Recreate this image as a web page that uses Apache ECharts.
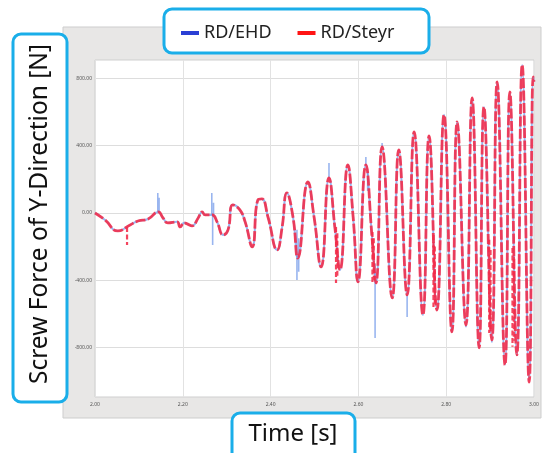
<!DOCTYPE html>
<html>
<head>
<meta charset="utf-8">
<script src="https://cdn.jsdelivr.net/npm/echarts@6/dist/echarts.min.js"></script>
<style>
  html, body { margin: 0; padding: 0; background: #ffffff; }
  #chart { width: 543px; height: 453px; }
</style>
</head>
<body>
<div id="chart"></div>
<script>
// Screw force (Y direction) over time, two measurement sources
const timeSteyr = [
  2.000, 2.023, 2.052, 2.080, 2.098, 2.121, 2.144, 2.155, 2.166, 2.187,
  2.194, 2.203, 2.210, 2.221, 2.235, 2.244, 2.251, 2.267, 2.278, 2.292,
  2.303, 2.314, 2.330, 2.342, 2.358, 2.371, 2.380, 2.394, 2.415, 2.426,
  2.437, 2.451, 2.462, 2.485, 2.499, 2.515, 2.533, 2.547, 2.558, 2.576,
  2.588, 2.599, 2.617, 2.631, 2.640, 2.654, 2.677, 2.692, 2.711, 2.727,
  2.747, 2.761, 2.779, 2.795, 2.813, 2.825, 2.845, 2.859, 2.875, 2.886,
  2.904, 2.916, 2.934, 2.945, 2.961, 2.973, 2.989, 2.998, 3.000
];
const forceSteyr = [
  0, -42, -107, -71, -48, -36, 6, -30, -59, -53,
  -83, -59, -65, -77, -30, 6, -12, -12, -53, -131,
  -101, 48, 18, -53, -202, 77, 83, -24, -220, -89,
  119, -24, -268, 184, -24, -321, 208, -101, -339, 285,
  -24, -410, 285, -143, -416, 392, -505, 374, -487, 481,
  -606, 458, -577, 583, -707, 541, -666, 684, -802, 630,
  -755, 779, -903, 719, -844, 880, -1005, 808, 780
];
// EHD trace follows the same course; its extra excursions are listed separately
const timeEhd = timeSteyr;
const forceEhd = forceSteyr;

// short excursions: [time, from, to]
const ehdSpikes = [
  [2.143, 6, 119], [2.146, 0, 90],
  [2.266, -12, 119], [2.268, -12, -190], [2.270, -20, 60],
  [2.460, -100, -398], [2.464, -150, -350],
  [2.533, 208, 297],
  [2.617, 285, 333], [2.621, 250, 130],
  [2.638, -300, -743],
  [2.654, 392, 416],
  [2.711, -487, -618],
  [2.813, -707, -680],
  [2.845, -666, -680],
  [2.904, -755, -770],
  [2.961, -844, -850]
];
const steyrSpikes = [
  [2.073, -83, -190],
  [2.549, -83, -416], [2.552, -120, -380],
  [2.632, -113, -416], [2.635, -150, -400],
  [2.771, -131, -559], [2.774, -200, -540],
  [2.898, -160, -713], [2.901, -220, -690],
  [2.951, -208, -796], [2.954, -260, -760]
];

const yTicks = [-800, -400, 0, 400, 800];

function pairs(ts, vs) { return ts.map((t, i) => [t, vs[i]]); }
function spikeSegments(list) {
  const out = [];
  list.forEach(s => { out.push([s[0], s[1]], [s[0], s[2]], null); });
  return out;
}

const chart = echarts.init(document.getElementById('chart'), null, { renderer: 'canvas' });
const CYAN = '#1aaee9';
const FONT = 'Noto Sans';
const RED = 'rgba(242,42,72,0.88)';
const BLUE = 'rgba(110,150,232,0.7)';

chart.setOption({
  animation: false,
  backgroundColor: '#ffffff',
  textStyle: { fontFamily: FONT },
  grid: {
    left: 95, top: 60, right: 9, bottom: 56,
    show: true, backgroundColor: '#ffffff', borderColor: '#cfcfcf', borderWidth: 1
  },
  legend: {
    left: 176, top: 19, z: 10,
    icon: 'rect', itemWidth: 18, itemHeight: 4, itemGap: 26,
    textStyle: { fontSize: 18, color: '#222', fontFamily: FONT },
    data: [
      { name: 'RD/EHD', itemStyle: { color: '#2b3fd4', opacity: 1 } },
      { name: 'RD/Steyr', itemStyle: { color: '#ff1414', opacity: 1 } }
    ]
  },
  xAxis: {
    type: 'value', min: 2, max: 3, interval: 0.2,
    name: 'Time', nameLocation: 'middle', nameGap: 11,
    nameTextStyle: { fontSize: 5, color: '#888' },
    axisLine: { show: false }, axisTick: { show: false },
    axisLabel: { fontSize: 5, color: '#555', margin: 5, formatter: v => v.toFixed(2) },
    splitLine: { lineStyle: { color: '#e2e2e2', width: 1 } }
  },
  yAxis: {
    type: 'value', min: -1094, max: 909,
    axisLine: { show: false },
    axisTick: { show: false, customValues: yTicks },
    axisLabel: { fontSize: 5, color: '#555', margin: 3, customValues: yTicks, formatter: v => v.toFixed(2) },
    splitLine: { lineStyle: { color: '#dddddd', width: 1 } }
  },
  series: [
    {
      name: 'RD/EHD', type: 'line', data: pairs(timeEhd, forceEhd),
      smooth: 0.5, showSymbol: false, z: 2,
      itemStyle: { color: '#2b3fd4' },
      lineStyle: { color: BLUE, width: 2 }
    },
    {
      name: 'RD/EHD', type: 'line', data: spikeSegments(ehdSpikes),
      smooth: false, showSymbol: false, connectNulls: false, z: 2,
      itemStyle: { color: '#2b3fd4' },
      lineStyle: { color: BLUE, width: 1.6 }
    },
    {
      name: 'RD/Steyr', type: 'line', data: pairs(timeSteyr, forceSteyr),
      smooth: 0.5, showSymbol: false, z: 3,
      itemStyle: { color: '#ff1414' },
      lineStyle: { color: RED, width: 2.8, type: [10, 2.5] }
    },
    {
      name: 'RD/Steyr', type: 'line', data: spikeSegments(steyrSpikes),
      smooth: false, showSymbol: false, connectNulls: false, z: 3,
      itemStyle: { color: '#ff1414' },
      lineStyle: { color: RED, width: 2.2, type: [5, 2.5] }
    }
  ],
  graphic: [
    { type: 'rect', z: -100, shape: { x: 63, y: 27, width: 478, height: 391 },
      style: { fill: '#e8e7e6', stroke: '#cdcdcd', lineWidth: 1 } },
    { type: 'rect', z: 5, shape: { x: 164, y: 9, width: 265, height: 44, r: 8 },
      style: { fill: '#ffffff', stroke: CYAN, lineWidth: 3 } },
    { type: 'rect', z: 5, shape: { x: 13, y: 34, width: 54, height: 368, r: 8 },
      style: { fill: '#ffffff', stroke: CYAN, lineWidth: 3 } },
    { type: 'text', z: 6, x: 40, y: 214, rotation: Math.PI / 2,
      style: { text: 'Screw Force of Y-Direction [N]', font: '24.5px "Noto Sans"', fill: '#111',
        align: 'center', verticalAlign: 'middle' } },
    { type: 'rect', z: 5, shape: { x: 232, y: 413, width: 123, height: 48, r: 8 },
      style: { fill: '#ffffff', stroke: CYAN, lineWidth: 3 } },
    { type: 'text', z: 6, x: 293, y: 434,
      style: { text: 'Time [s]', font: '24px "Noto Sans"', fill: '#111',
        align: 'center', verticalAlign: 'middle' } }
  ]
});
</script>
</body>
</html>
